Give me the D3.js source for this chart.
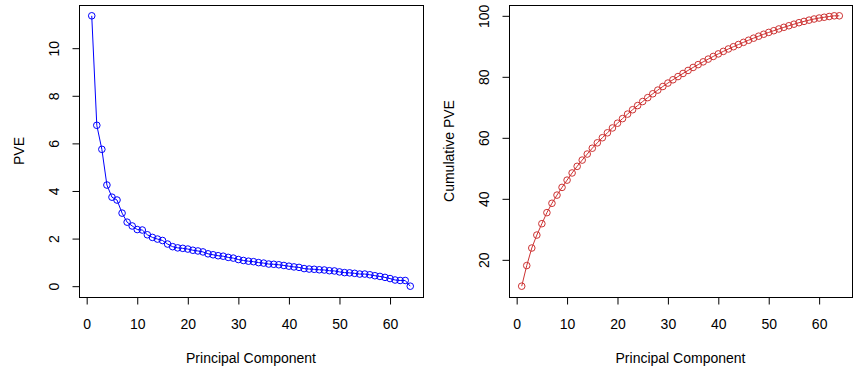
<!DOCTYPE html>
<html>
<head>
<meta charset="utf-8">
<script src="https://cdn.jsdelivr.net/npm/d3@7"></script>
<style>
  html, body { margin: 0; padding: 0; background: #fff; }
  text { font-family: "Liberation Sans", Arial, Helvetica, sans-serif; fill: #000; }
</style>
</head>
<body>
<svg id="chart" width="860" height="366"></svg>
<script>
// Principal components 1..64
const components = d3.range(1, 65);
// Proportion of variance explained (%), per component
const pve = [11.36, 6.76, 5.75, 4.25, 3.74, 3.62, 3.07, 2.69, 2.53, 2.38,
  2.36, 2.16, 2.05, 1.98, 1.92, 1.77, 1.66, 1.61, 1.59, 1.56,
  1.51, 1.48, 1.44, 1.36, 1.32, 1.28, 1.26, 1.21, 1.18, 1.12,
  1.08, 1.05, 1.03, 0.99, 0.97, 0.93, 0.92, 0.90, 0.87, 0.84,
  0.81, 0.79, 0.74, 0.72, 0.71, 0.69, 0.68, 0.65, 0.64, 0.60,
  0.57, 0.56, 0.54, 0.51, 0.51, 0.48, 0.44, 0.41, 0.37, 0.32,
  0.26, 0.24, 0.24, 0.00];
// Cumulative PVE (%)
const cumPve = [11.36, 18.12, 23.87, 28.12, 31.85, 35.47, 38.54, 41.22, 43.75, 46.13,
  48.48, 50.65, 52.70, 54.68, 56.59, 58.36, 60.03, 61.64, 63.23, 64.79,
  66.30, 67.78, 69.21, 70.58, 71.90, 73.18, 74.44, 75.65, 76.83, 77.95,
  79.03, 80.08, 81.10, 82.09, 83.07, 84.00, 84.91, 85.81, 86.68, 87.52,
  88.34, 89.13, 89.87, 90.59, 91.30, 91.99, 92.67, 93.32, 93.96, 94.56,
  95.12, 95.69, 96.23, 96.74, 97.25, 97.74, 98.17, 98.58, 98.95, 99.27,
  99.53, 99.77, 100.00, 100.00];
const xTicks = [0, 10, 20, 30, 40, 50, 60];
const yTicksLeft = [0, 2, 4, 6, 8, 10];
const yTicksRight = [20, 40, 60, 80, 100];

const FONT = '"Liberation Sans", Arial, Helvetica, sans-serif';
const FS = 14;
const svg = d3.select("#chart");

function rExtent(vals) {
  const [a, b] = d3.extent(vals);
  const pad = (b - a) * 0.04;
  return [a - pad, b + pad];
}

function panel(cfg) {
  const { left, right, top, bottom, values, color, yTicks, yLabel } = cfg;
  const x = d3.scaleLinear().domain(rExtent(components)).range([left, right]);
  const y = d3.scaleLinear().domain(rExtent(values)).range([bottom, top]);
  const g = svg.append("g");

  // box
  g.append("rect").attr("x", left + 0.5).attr("y", top + 0.5)
    .attr("width", right - left).attr("height", bottom - top)
    .attr("fill", "none").attr("stroke", "#000").attr("stroke-width", 1);

  // x axis
  const xa = g.append("g").attr("transform", `translate(0,${bottom + 0.5})`)
    .call(d3.axisBottom(x).tickValues(xTicks).tickSize(7).tickSizeOuter(0));
  xa.select(".domain").attr("d", `M${x(xTicks[0])},0H${x(xTicks[xTicks.length - 1])}`).attr("stroke", "#000");
  xa.selectAll(".tick line").attr("stroke", "#000");
  xa.selectAll(".tick text")
    .attr("y", 26).attr("dy", null).attr("dominant-baseline", "central")
    .attr("font-size", FS).style("font-family", FONT);

  // y axis
  const ya = g.append("g").attr("transform", `translate(${left + 0.5},0)`)
    .call(d3.axisLeft(y).tickValues(yTicks).tickSize(7).tickSizeOuter(0));
  ya.select(".domain").attr("d", `M0,${y(yTicks[0])}V${y(yTicks[yTicks.length - 1])}`).attr("stroke", "#000");
  ya.selectAll(".tick line").attr("stroke", "#000");
  ya.selectAll(".tick text")
    .attr("x", null).attr("dy", null)
    .attr("transform", "translate(-26,0) rotate(-90)")
    .attr("text-anchor", "middle").attr("dominant-baseline", "central")
    .attr("font-size", FS).style("font-family", FONT);

  // axis titles
  g.append("text").attr("x", (left + right) / 2).attr("y", 363)
    .attr("text-anchor", "middle").attr("font-size", FS).text("Principal Component");
  g.append("text")
    .attr("transform", `translate(${left - 60},${(top + bottom) / 2}) rotate(-90)`)
    .attr("text-anchor", "middle").attr("dominant-baseline", "central")
    .attr("font-size", FS).text(yLabel);

  // line + points
  const line = d3.line().x((d, i) => x(components[i])).y(d => y(d));
  g.append("path").datum(values).attr("d", line)
    .attr("fill", "none").attr("stroke", color).attr("stroke-width", 1);
  g.selectAll("circle.pt").data(values).enter().append("circle")
    .attr("class", "pt")
    .attr("cx", (d, i) => x(components[i])).attr("cy", d => y(d))
    .attr("r", 3.3).attr("fill", "none").attr("stroke", color).attr("stroke-width", 1);
}

panel({ left: 79, right: 423, top: 5, bottom: 297, values: pve, color: "#0000FF",
  yTicks: yTicksLeft, yLabel: "PVE" });
panel({ left: 509, right: 852, top: 5, bottom: 297, values: cumPve, color: "#CD3333",
  yTicks: yTicksRight, yLabel: "Cumulative PVE" });
</script>
</body>
</html>
